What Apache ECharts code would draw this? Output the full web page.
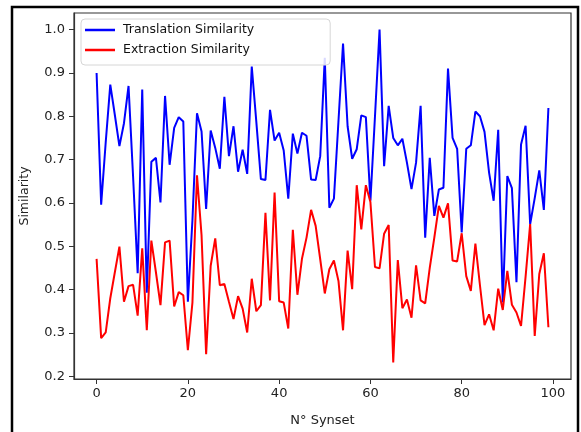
<!DOCTYPE html>
<html>
<head>
<meta charset="utf-8">
<script src="https://cdn.jsdelivr.net/npm/echarts@6/dist/echarts.min.js"></script>
<style>
  html, body { margin: 0; padding: 0; background: #fff; }
  #chart { width: 581px; height: 432px; }
</style>
</head>
<body>
<div id="chart"></div>
<script>
// Similarity scores per synset (index 0..99)
const translationSimilarity = [
  0.900, 0.596, 0.740, 0.873, 0.803, 0.731, 0.784, 0.870, 0.660, 0.438,
  0.862, 0.393, 0.695, 0.704, 0.601, 0.847, 0.688, 0.773, 0.798, 0.788,
  0.372, 0.560, 0.807, 0.765, 0.586, 0.767, 0.727, 0.679, 0.845, 0.708,
  0.777, 0.672, 0.723, 0.667, 0.915, 0.787, 0.655, 0.653, 0.815, 0.744,
  0.762, 0.721, 0.610, 0.760, 0.714, 0.762, 0.755, 0.654, 0.653, 0.708,
  0.935, 0.589, 0.610, 0.789, 0.968, 0.777, 0.702, 0.724, 0.802, 0.798,
  0.605, 0.800, 1.000, 0.685, 0.824, 0.750, 0.733, 0.748, 0.693, 0.632,
  0.693, 0.824, 0.520, 0.704, 0.570, 0.631, 0.635, 0.910, 0.750, 0.725,
  0.532, 0.725, 0.733, 0.811, 0.800, 0.764, 0.670, 0.605, 0.769, 0.370,
  0.662, 0.634, 0.417, 0.735, 0.778, 0.551, 0.611, 0.675, 0.584, 0.819
];

const extractionSimilarity = [
  0.471, 0.288, 0.301, 0.380, 0.440, 0.499, 0.372, 0.408, 0.411, 0.340,
  0.495, 0.306, 0.513, 0.440, 0.364, 0.509, 0.513, 0.361, 0.394, 0.387,
  0.260, 0.370, 0.664, 0.525, 0.251, 0.455, 0.518, 0.410, 0.413, 0.372,
  0.332, 0.385, 0.356, 0.301, 0.425, 0.350, 0.364, 0.577, 0.375, 0.624,
  0.373, 0.370, 0.310, 0.538, 0.388, 0.471, 0.520, 0.584, 0.547, 0.470,
  0.391, 0.447, 0.467, 0.420, 0.306, 0.490, 0.401, 0.641, 0.539, 0.641,
  0.602, 0.452, 0.449, 0.529, 0.549, 0.232, 0.468, 0.357, 0.377, 0.335,
  0.456, 0.375, 0.368, 0.450, 0.520, 0.593, 0.566, 0.599, 0.467, 0.465,
  0.530, 0.431, 0.397, 0.506, 0.410, 0.318, 0.343, 0.306, 0.402, 0.353,
  0.443, 0.365, 0.347, 0.316, 0.430, 0.551, 0.293, 0.436, 0.484, 0.313
];

const xTicks = [0, 20, 40, 60, 80, 100];
const yTicks = [0.2, 0.3, 0.4, 0.5, 0.6, 0.7, 0.8, 0.9, 1.0];

const seriesNames = ['Translation Similarity', 'Extraction Similarity'];
const seriesColors = ['#0000ff', '#ff0000'];

const toPoints = vals => vals.map((v, i) => [i, v]);

const FONT = 'DejaVu Sans';
const ink = '#222';

const chart = echarts.init(document.getElementById('chart'), null, { renderer: 'canvas' });

chart.setOption({
  animation: false,
  backgroundColor: '#fff',
  textStyle: { fontFamily: FONT },
  grid: {
    left: 74, right: 10, top: 13, bottom: 52,
    show: true, borderColor: '#333', borderWidth: 1.2,
    backgroundColor: 'transparent'
  },
  legend: {
    left: 81, top: 19,
    orient: 'vertical',
    icon: 'rect',
    itemWidth: 30, itemHeight: 2.5,
    itemGap: 6,
    padding: [4, 76, 8, 4],
    backgroundColor: 'rgba(255,255,255,0.85)',
    borderColor: '#d6d6d6', borderWidth: 1, borderRadius: 4,
    textStyle: { fontFamily: FONT, fontSize: 12.5, color: '#111', lineHeight: 14, padding: [0, 0, 0, 3] },
    data: seriesNames
  },
  xAxis: {
    type: 'value',
    min: -4.95, max: 103.95,
    name: 'N° Synset',
    nameLocation: 'middle', nameGap: 35,
    nameTextStyle: { fontFamily: FONT, fontSize: 13, color: ink },
    axisLine: { show: true, onZero: false, lineStyle: { color: '#333', width: 1.2 } },
    axisTick: { show: true, customValues: xTicks, length: 5, inside: false, lineStyle: { color: '#333' } },
    axisLabel: { customValues: xTicks, margin: 8, fontFamily: FONT, fontSize: 13, color: ink },
    splitLine: { show: false }
  },
  yAxis: {
    type: 'value',
    min: 0.1936, max: 1.0384,
    name: 'Similarity',
    nameLocation: 'middle', nameGap: 43, nameRotate: 90,
    nameTextStyle: { fontFamily: FONT, fontSize: 12.5, color: ink },
    axisLine: { show: true, onZero: false, lineStyle: { color: '#333', width: 1.2 } },
    axisTick: { show: true, customValues: yTicks, length: 5, inside: false, lineStyle: { color: '#333' } },
    axisLabel: {
      customValues: yTicks, margin: 9, fontFamily: FONT, fontSize: 13, color: ink,
      formatter: v => v.toFixed(1)
    },
    splitLine: { show: false }
  },
  graphic: [{
    type: 'rect',
    shape: { x: 12, y: 7, width: 566, height: 440 },
    style: { fill: 'none', stroke: '#000', lineWidth: 2.5 },
    silent: true,
    z: 100
  }],
  series: [
    {
      name: seriesNames[0], type: 'line',
      data: toPoints(translationSimilarity),
      showSymbol: false, symbol: 'none',
      color: seriesColors[0],
      lineStyle: { color: seriesColors[0], width: 2 },
      z: 2
    },
    {
      name: seriesNames[1], type: 'line',
      data: toPoints(extractionSimilarity),
      showSymbol: false, symbol: 'none',
      color: seriesColors[1],
      lineStyle: { color: seriesColors[1], width: 2 },
      z: 3
    }
  ]
});
</script>
</body>
</html>
